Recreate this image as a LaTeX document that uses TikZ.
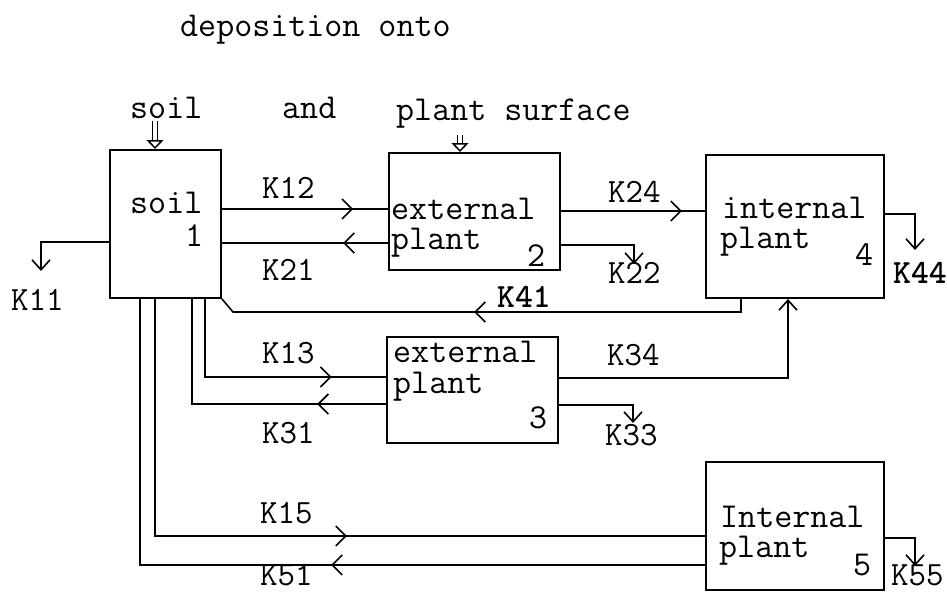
\documentclass[tikz,border=0pt]{standalone}
\usetikzlibrary{arrows.meta,decorations.markings}
\tikzset{
  box/.style={draw,line width=2pt,inner sep=0pt},
  flow/.style={line width=1.6pt},
  tip/.style={-{Straight Barb[length=10pt,width=18pt,line width=1.6pt]}},
  txt/.style={anchor=base west,inner sep=0pt,font=\ttfamily\fontsize{35}{38}\selectfont},
  lbl/.style={anchor=base west,inner sep=0pt,font=\ttfamily\fontsize{34}{37}\selectfont},
  midarr/.style={postaction={decorate},decoration={markings,
    mark=at position #1 with {\arrow{Straight Barb[length=10pt,width=20pt,line width=1.6pt]}}}},
  feed/.style={line width=1.5pt,-{Triangle[open,length=9pt,width=17pt]},
    preaction={draw,line width=6.5pt,-,shorten >=8pt},
    postaction={draw=white,line width=3.5pt,-,shorten >=9pt}},
}
\begin{document}
\begin{tikzpicture}[x=1pt,y=-1pt]
  \useasboundingbox (0,0) rectangle (947,592);
  % heading
  \node[txt] (dep) at (180,36) {deposition onto};
  \node[txt] (wsoil) at (130,118) {soil};
  \node[txt] (wand) at (282,118) {and};
  \node[txt] (wplant) at (396,120) {plant surface};

  % compartments
  \node[box,minimum width=111pt,minimum height=148pt] (b1) at (165.5,224) {};
  \node[box,minimum width=171pt,minimum height=117pt] (b2) at (474.5,211.5) {};
  \node[box,minimum width=178pt,minimum height=143pt] (b4) at (795,226.5) {};
  \node[box,minimum width=171pt,minimum height=106pt] (b3) at (472.5,390) {};
  \node[box,minimum width=178pt,minimum height=128pt] (b5) at (795,526) {};

  \node[txt] (t1) at (130,213) {soil};
  \node[txt] (n1) at (185,246) {1};
  \node[txt] (t2a) at (391,219) {external};
  \node[txt] (t2b) at (391,249) {plant};
  \node[txt] (n2) at (527,266) {2};
  \node[txt] (t4a) at (722,218) {internal};
  \node[txt] (t4b) at (720,248) {plant};
  \node[txt] (n4) at (855,265) {4};
  \node[txt] (t3a) at (393,362) {external};
  \node[txt] (t3b) at (393,393) {plant};
  \node[txt] (n3) at (529,428) {3};
  \node[txt] (t5a) at (720,527) {Internal};
  \node[txt] (t5b) at (719,557) {plant};
  \node[txt] (n5) at (853,575) {5};

  % free ends
  \coordinate (e11) at (41,271);
  \coordinate (e22) at (634,264);
  \coordinate (e44) at (915,250);
  \coordinate (e33) at (633,423);
  \coordinate (e55) at (915,566);

  % deposition
  \draw[feed] ([yshift=-3pt]wsoil.south -| 155,0) -- (b1.north -| 155,0);
  \draw[feed] ([yshift=-7pt]wplant.south -| 460,0) -- (b2.north -| 460,0);

  % transfers
  \draw[flow,midarr=0.79] (b1.east |- 0,209) -- (b2.west |- 0,209);
  \draw[flow,midarr=0.27] (b2.west |- 0,243) -- (b1.east |- 0,243);
  \draw[flow,tip] (b1.west |- 0,242) -| (e11);
  \draw[flow,midarr=0.84] (b2.east |- 0,211) -- (b4.west |- 0,211);
  \draw[flow,tip] (b2.east |- 0,245) -| (e22);
  \draw[flow,tip] (b4.east |- 0,214) -| (e44);
  \draw[flow,midarr=0.52] (b4.south -| 741,0) -- (741,312) -- (233,312) -- (b1.south east);
  \draw[flow,midarr=0.79] (b1.south -| 205,0) |- (b3.west |- 0,377);
  \draw[flow,midarr=0.23] (b3.west |- 0,404) -| (b1.south -| 192,0);
  \draw[flow,tip] (b3.east |- 0,378) -| (b4.south -| 788,0);
  \draw[flow,tip] (b3.east |- 0,405) -| (e33);
  \draw[flow,midarr=0.545] (b1.south -| 155,0) |- (b5.west |- 0,536);
  \draw[flow,midarr=0.45] (b5.west |- 0,565) -| (b1.south -| 140,0);
  \draw[flow,tip] (b5.east |- 0,538) -| (e55);

  % rate labels
  \node[lbl] (k12) at (262,198) {K12};
  \node[lbl] (k21) at (262,280) {K21};
  \node[lbl] (k11) at (11,310) {K11};
  \node[lbl] (k24) at (608,202) {K24};
  \node[lbl] (k22) at (608,283) {K22};
  \node[lbl,font=\ttfamily\bfseries\fontsize{34}{37}\selectfont] (k44) at (893,283) {K44};
  \node[lbl,font=\ttfamily\bfseries\fontsize{34}{37}\selectfont] (k41) at (497,307) {K41};
  \node[lbl] (k13) at (262,363) {K13};
  \node[lbl] (k31) at (262,443) {K31};
  \node[lbl] (k34) at (607,365) {K34};
  \node[lbl] (k33) at (605,445) {K33};
  \node[lbl] (k15) at (260,523) {K15};
  \node[lbl] (k51) at (260,585) {K51};
  \node[lbl] (k55) at (891,585) {K55};
\end{tikzpicture}
\end{document}
